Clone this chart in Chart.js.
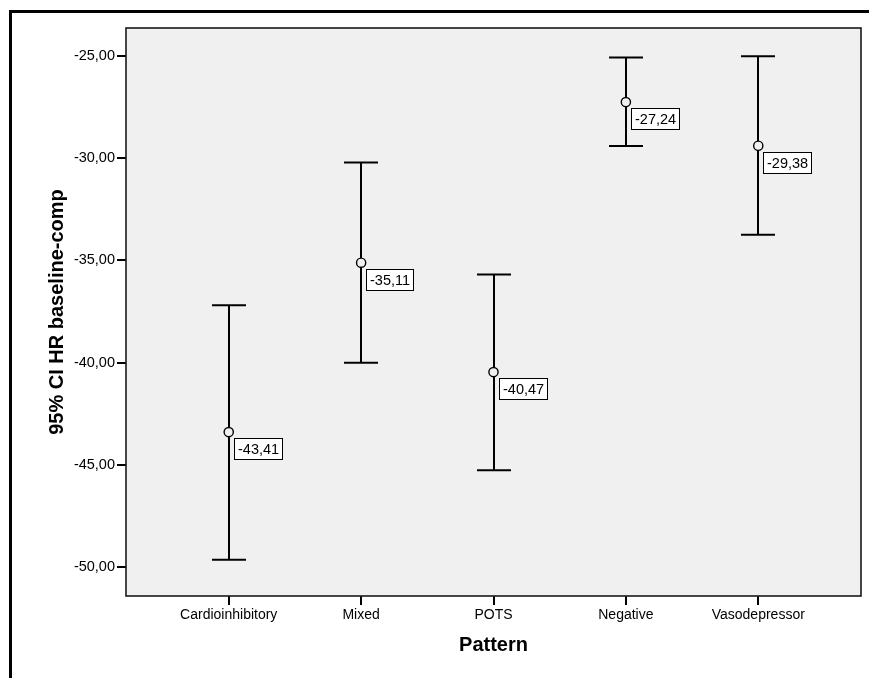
<!DOCTYPE html>
<html>
<head>
<meta charset="utf-8">
<script src="https://cdn.jsdelivr.net/npm/chart.js@4/dist/chart.umd.min.js"></script>
<style>
  html, body { margin: 0; padding: 0; background: #ffffff; }
  #wrap { width: 869px; height: 678px; }
</style>
</head>
<body>
<div id="wrap"><canvas id="c" width="869" height="678"></canvas></div>
<script>
// ---- data ----
const categories = ['Cardioinhibitory', 'Mixed', 'POTS', 'Negative', 'Vasodepressor'];
const means = [-43.41, -35.11, -40.47, -27.24, -29.38];
const ciLower = [-49.67, -40.01, -45.28, -29.39, -33.74];
const ciUpper = [-37.19, -30.20, -35.69, -25.05, -25.00];
const yTicks = [-25, -30, -35, -40, -45, -50];
const yTitle = '95% CI HR baseline-comp';
const xTitle = 'Pattern';

const fmt = v => v.toFixed(2).replace('.', ',');

const decor = {
  id: 'decor',
  beforeDraw(chart) {
    const {ctx, chartArea: a} = chart;
    ctx.save();
    ctx.fillStyle = '#f0f0f0';
    ctx.fillRect(a.left, a.top, a.right - a.left, a.bottom - a.top);
    // outer frame (left and top only visible)
    ctx.strokeStyle = '#000';
    ctx.lineWidth = 3;
    ctx.beginPath();
    ctx.moveTo(10.5, 678);
    ctx.lineTo(10.5, 11.5);
    ctx.lineTo(869, 11.5);
    ctx.stroke();
    ctx.restore();
  },
  beforeDatasetsDraw(chart) {
    const {ctx, chartArea: a, scales: {x, y}} = chart;
    ctx.save();
    // plot border
    ctx.strokeStyle = '#1a1a1a';
    ctx.lineWidth = 1.6;
    ctx.strokeRect(a.left, a.top, a.right - a.left, a.bottom - a.top);
    // error bars
    ctx.strokeStyle = '#000';
    ctx.lineWidth = 2;
    const half = 17;
    for (let i = 0; i < categories.length; i++) {
      const px = Math.round(x.getPixelForValue(i));
      const yl = y.getPixelForValue(ciLower[i]);
      const yu = y.getPixelForValue(ciUpper[i]);
      ctx.beginPath();
      ctx.moveTo(px, yu); ctx.lineTo(px, yl);
      ctx.moveTo(px - half, yu); ctx.lineTo(px + half, yu);
      ctx.moveTo(px - half, yl); ctx.lineTo(px + half, yl);
      ctx.stroke();
    }
    ctx.restore();
  },
  afterDatasetsDraw(chart) {
    const {ctx, scales: {x, y}} = chart;
    ctx.save();
    ctx.font = '14.5px "Liberation Sans", Arial, sans-serif';
    ctx.textBaseline = 'middle';
    ctx.textAlign = 'left';
    for (let i = 0; i < categories.length; i++) {
      const px = x.getPixelForValue(i);
      const py = y.getPixelForValue(means[i]);
      const txt = fmt(means[i]);
      const w = Math.round(ctx.measureText(txt).width + 7);
      const h = 21;
      const bx = Math.round(px + 5) + 0.5;
      const by = Math.round(py + 6) + 0.5;
      ctx.fillStyle = '#ffffff';
      ctx.fillRect(bx, by, w, h);
      ctx.strokeStyle = '#000';
      ctx.lineWidth = 1;
      ctx.strokeRect(bx, by, w, h);
      ctx.fillStyle = '#000';
      ctx.fillText(txt, bx + 3.5, by + h / 2 + 0.5);
    }
    ctx.restore();
  }
};

new Chart(document.getElementById('c'), {
  type: 'scatter',
  data: {
    datasets: [{
      data: means.map((m, i) => ({x: i, y: m})),
      pointStyle: 'circle',
      pointRadius: 4.6,
      pointHoverRadius: 4.6,
      pointBorderWidth: 1.4,
      pointBorderColor: '#000',
      pointBackgroundColor: '#f0f0f0',
      showLine: false
    }]
  },
  plugins: [decor],
  options: {
    responsive: false,
    animation: false,
    devicePixelRatio: 1,
    layout: { padding: { left: 0, top: 28, right: 8, bottom: 0 } },
    plugins: { legend: { display: false }, tooltip: { enabled: false } },
    scales: {
      x: {
        type: 'linear',
        min: -0.776,
        max: 4.776,
        afterFit(s) { s.height = 82; },
        afterBuildTicks(s) { s.ticks = categories.map((c, i) => ({value: i})); },
        ticks: {
          color: '#000',
          font: { family: '"Liberation Sans", Arial, sans-serif', size: 14 },
          padding: 2,
          maxRotation: 0,
          autoSkip: false,
          callback: (v) => categories[v]
        },
        grid: { display: true, drawOnChartArea: false, drawTicks: true, tickLength: 9, color: '#000', lineWidth: 2 },
        border: { display: false },
        title: {
          display: true,
          text: xTitle,
          color: '#000',
          font: { family: '"Liberation Sans", Arial, sans-serif', size: 20, weight: 'bold' },
          padding: { top: 0, bottom: 21 }
        }
      },
      y: {
        type: 'linear',
        min: -51.44,
        max: -23.61,
        afterFit(s) { s.width = 126; },
        afterBuildTicks(s) { s.ticks = yTicks.map(v => ({value: v})); },
        ticks: {
          color: '#000',
          font: { family: '"Liberation Sans", Arial, sans-serif', size: 14.5 },
          padding: 2,
          callback: (v) => fmt(v)
        },
        grid: { display: true, drawOnChartArea: false, drawTicks: true, tickLength: 9, color: '#000', lineWidth: 2 },
        border: { display: false },
        title: {
          display: true,
          text: yTitle,
          color: '#000',
          font: { family: '"Liberation Sans", Arial, sans-serif', size: 20, weight: 'bold' },
          padding: { top: 45, bottom: 0 }
        }
      }
    }
  }
});
</script>
</body>
</html>
